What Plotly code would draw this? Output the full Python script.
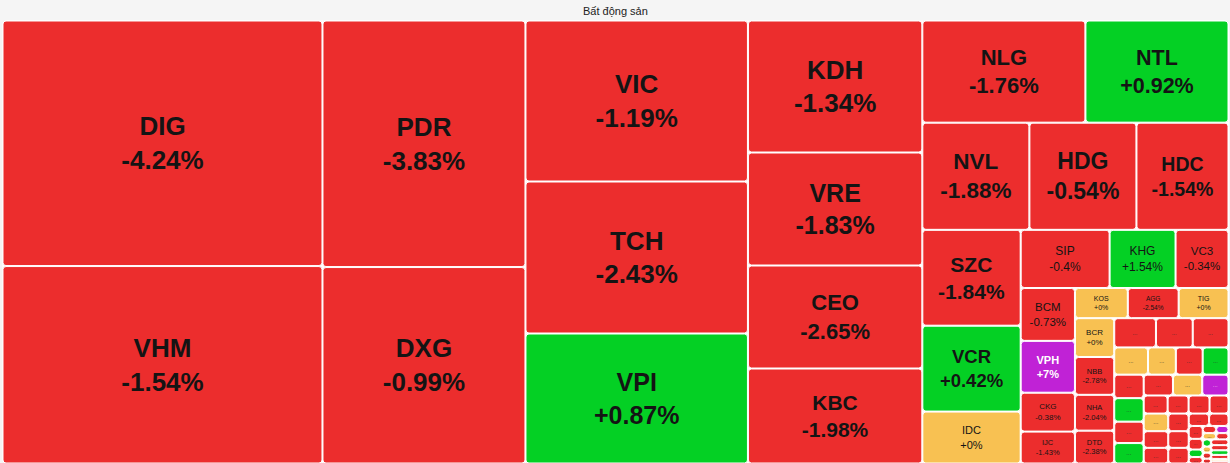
import plotly.graph_objects as go

# ---------------- data ----------------
tickers = ["DIG", "VHM", "PDR", "DXG", "VIC", "TCH", "VPI", "KDH", "VRE", "CEO", "KBC",
           "NLG", "NTL", "NVL", "HDG", "HDC", "SZC", "VCR", "IDC", "SIP", "KHG", "VC3",
           "BCM", "VPH", "CKG", "IJC", "KOS", "AGG", "TIG", "BCR", "NBB", "NHA", "DTD"]
changes = [-4.24, -1.54, -3.83, -0.99, -1.19, -2.43, 0.87, -1.34, -1.83, -2.65, -1.98,
           -1.76, 0.92, -1.88, -0.54, -1.54, -1.84, 0.42, 0, -0.4, 1.54, -0.34,
           -0.73, 7, -0.38, -1.43, 0, -2.54, 0, 0, -2.78, -2.04, -2.38]
weights = [78400, 63040, 49938, 39788, 35742, 33744, 28860, 22968, 19662, 17922, 16530,
           16626, 14586, 11449, 11449, 9844, 9408, 8428, 5096, 5162, 3828, 3074,
           2862, 2808, 2106, 1728, 1590, 1530, 1500, 1521, 1482, 1404, 1287]

# small unlabeled tiles ("...")
mini_ids = ["a1", "a2", "a3", "b1", "b2", "b3", "b4", "c1", "c2", "c3", "c4",
            "d1", "d2", "d3", "e1", "e2", "e3", "e4", "f1", "f2", "f3", "g1", "g2", "g3",
            "h1", "h2", "j1", "j2", "j3", "j4", "k1", "k2", "k3", "k4",
            "n1", "n2", "n3", "n4", "o1", "o2", "o3", "o4", "o5", "o6"]
mini_changes = [-1, -1, -1, 0, 0, -1, 1, -1, 1, -1, 1,
                -1, 0, 7, -1, -1, -1, -1, 0, -1, -1, -1, -1, -1,
                -1, -1, -1, -1, 1, -1, -1, 7, 0, -1,
                1, 0, -1, -1, -1, -1, 1, -1, 0, -1]
mini_weights = [1218, 1073, 1044, 918, 756, 729, 702, 690, 690, 630, 600,
                609, 609, 546, 432, 378, 378, 342, 432, 408, 384, 360, 340, 320,
                252, 240, 180, 150, 105, 90, 96, 88, 84, 77,
                60, 50, 50, 40, 100, 90, 80, 70, 40, 40]

title_text = "Bất động sản"

# ---------------- hierarchy used for slice/dice tiling ----------------
groups = {
    "root": ["C1", "C2", "C3", "C4", "C5"],
    "C1": ["DIG", "VHM"],
    "C2": ["PDR", "DXG"],
    "C3": ["VIC", "TCH", "VPI"],
    "C4": ["KDH", "VRE", "CEO", "KBC"],
    "C5": ["R1", "R2", "R3"],
    "R1": ["NLG", "NTL"],
    "R2": ["NVL", "HDG", "HDC"],
    "R3": ["K1", "K2"],
    "K1": ["SZC", "VCR", "IDC"],
    "K2": ["Q1", "Q2"],
    "Q1": ["SIP", "KHG", "VC3"],
    "Q2": ["P1", "P2"],
    "P1": ["BCM", "VPH", "CKG", "IJC"],
    "P2": ["T1", "T2"],
    "T1": ["KOS", "AGG", "TIG"],
    "T2": ["U1", "U2"],
    "U1": ["BCR", "NBB", "NHA", "DTD"],
    "U2": ["V1", "V2", "V3"],
    "V1": ["a1", "a2", "a3"],
    "V2": ["b1", "b2", "b3", "b4"],
    "V3": ["W1", "W2"],
    "W1": ["c1", "c2", "c3", "c4"],
    "W2": ["X1", "X2", "X3"],
    "X1": ["d1", "d2", "d3"],
    "X2": ["e1", "e2", "e3", "e4"],
    "X3": ["Y1", "Y2", "Y3"],
    "Y1": ["f1", "f2", "f3"],
    "Y2": ["g1", "g2", "g3"],
    "Y3": ["Z1", "Z2"],
    "Z1": ["h1", "h2"],
    "Z2": ["J", "K"],
    "J": ["j1", "j2", "j3", "j4"],
    "K": ["KR1", "KR2", "KR3"],
    "KR1": ["k1", "k2"],
    "KR2": ["k3", "k4"],
    "KR3": ["N", "O"],
    "N": ["n1", "n2", "n3", "n4"],
    "O": ["o1", "o2", "o3", "o4", "o5", "o6"],
}

# ---------------- styles ----------------
FONT_PX = {"DIG": 26, "VHM": 26, "PDR": 26, "DXG": 26, "VIC": 26, "TCH": 26, "VPI": 25,
           "KDH": 26, "VRE": 25, "CEO": 22, "KBC": 21, "NLG": 22, "NTL": 21.5, "NVL": 22.5,
           "HDG": 23, "HDC": 19.5, "SZC": 21, "VCR": 18.5, "IDC": 11, "SIP": 12, "KHG": 12,
           "VC3": 11.5, "BCM": 11.5, "VPH": 11, "CKG": 8, "IJC": 7.5, "KOS": 7, "AGG": 6.5,
           "TIG": 7, "BCR": 8, "NBB": 7.5, "NHA": 7.5, "DTD": 7.5}
RED, GREEN, YELLOW, PURPLE = "#EC2D2D", "#04D024", "#F8C152", "#C022D6"


def tile_color(c):
    if c >= 6.9:
        return PURPLE
    if c > 0:
        return GREEN
    if c == 0:
        return YELLOW
    return RED


leaf_info = {}
for t, c, w in zip(tickers, changes, weights):
    leaf_info[t] = dict(label=t, change=c, value=w, mini=False)
for m, c, w in zip(mini_ids, mini_changes, mini_weights):
    leaf_info[m] = dict(label="...", change=c, value=w, mini=True)

ids, labels, parents, values, colors = [], [], [], [], []
templates, sizes, tcolors, cdata = [], [], [], []


def add(node, parent):
    ids.append(node)
    parents.append(parent)
    if node in leaf_info:
        info = leaf_info[node]
        c = info["change"]
        labels.append(info["label"])
        values.append(info["value"])
        colors.append(tile_color(c))
        pct = f"{c:+g}%"
        cdata.append(pct)
        if info["mini"]:
            templates.append("%{label}")
            sizes.append(6)
            tcolors.append("#f0d0f0" if c >= 6.9 else "#2a2a2a")
        else:
            fs = FONT_PX[node]
            sizes.append(fs)
            if c >= 6.9:
                tcolors.append("#ffffff")
                templates.append("<b>%{label}<br>%{customdata}</b>")
            else:
                tcolors.append("#141414")
                if fs >= 17:
                    templates.append("<b>%{label}<br>%{customdata}</b>")
                else:
                    templates.append("%{label}<br>%{customdata}")
    else:
        labels.append(title_text if node == "root" else node)
        values.append(0)
        colors.append("#ffffff")
        cdata.append("")
        templates.append(" ")
        sizes.append(6)
        tcolors.append("#ffffff")
        for ch in groups[node]:
            add(ch, node)


add("root", "")

fig = go.Figure(go.Treemap(
    ids=ids,
    labels=labels,
    parents=parents,
    values=values,
    branchvalues="remainder",
    sort=False,
    customdata=cdata,
    texttemplate=templates,
    textposition="middle center",
    textfont=dict(family="Liberation Sans, Arial, sans-serif", size=sizes, color=tcolors),
    marker=dict(colors=colors, line=dict(width=1, color="#ffffff"),
                pad=dict(t=0, l=0, r=0, b=0), cornerradius=3),
    tiling=dict(packing="slice-dice", pad=1),
    pathbar=dict(visible=False),
    hoverinfo="skip",
))

fig.update_layout(
    width=1230, height=463,
    margin=dict(l=3, r=2, t=21, b=0),
    paper_bgcolor="#f5f5f5",
    annotations=[dict(text=title_text, x=0.5, y=1 + 10 / 442, xref="paper", yref="paper",
                      xanchor="center", yanchor="middle", showarrow=False,
                      font=dict(family="Liberation Sans, Arial, sans-serif", size=11,
                                color="#222222"))],
)

fig.write_html("out.html", config={"displayModeBar": False},
               post_script="document.body.style.margin='0px';")
